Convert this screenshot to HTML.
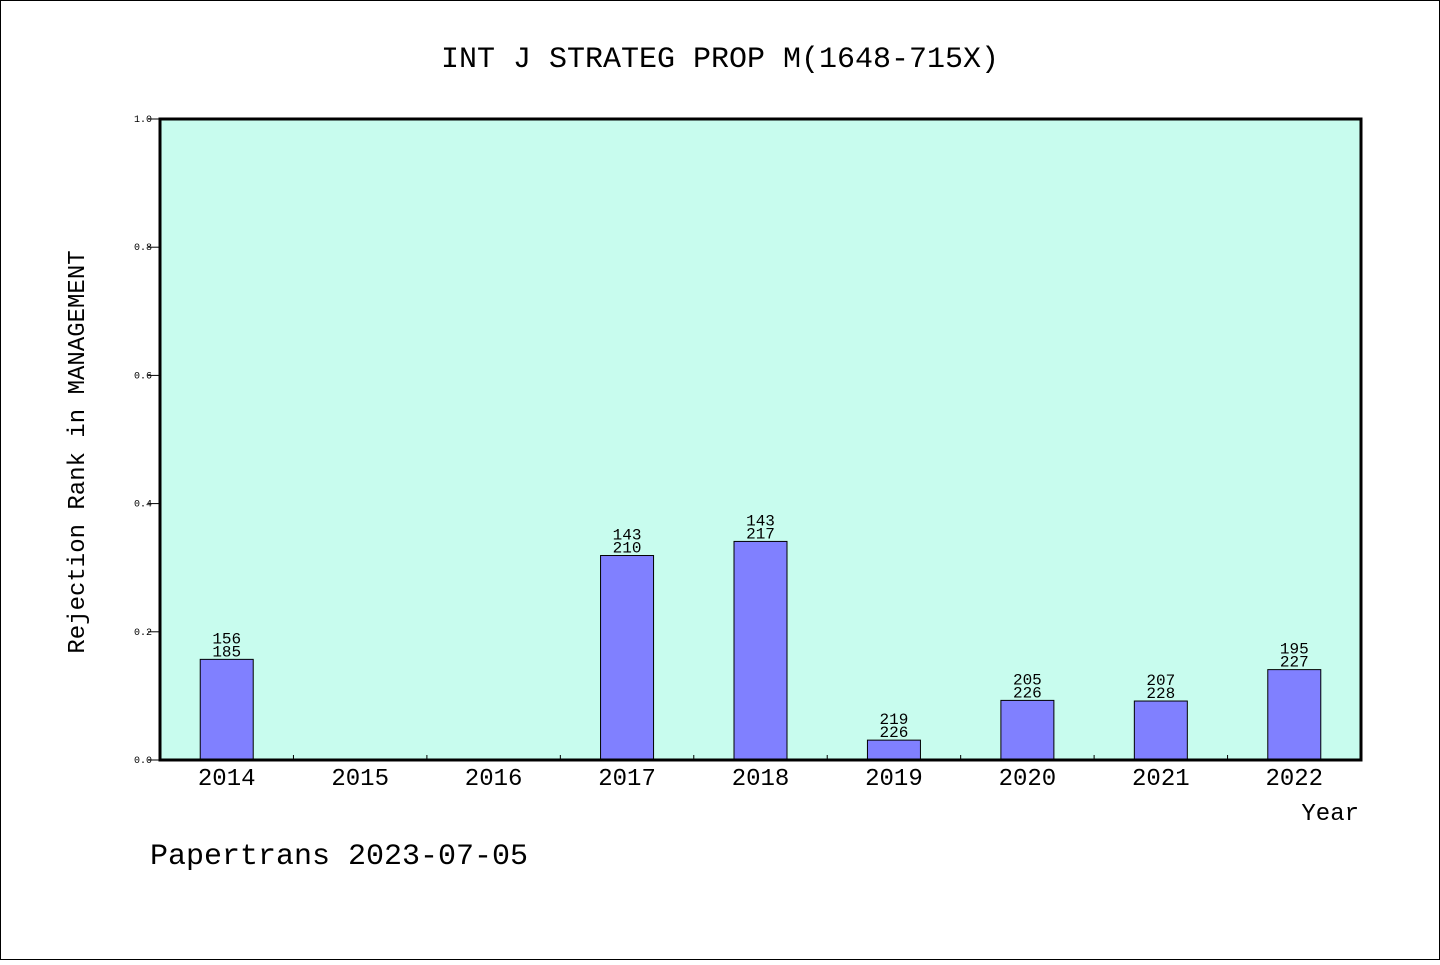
<!DOCTYPE html>
<html><head><meta charset="utf-8"><style>
body{margin:0;background:#fff}
svg text{font-family:"WenQuanYi Zen Hei","Liberation Mono",monospace;fill:#000}
</style></head><body>
<svg id="c" width="1440" height="960" viewBox="0 0 1440 960">
<rect x="0.5" y="0.5" width="1439" height="959" fill="#fff" stroke="#000"/>
<text x="720" y="67" font-size="30" text-anchor="middle">INT J STRATEG PROP M(1648-715X)</text>
<rect x="160" y="119" width="1201" height="641" fill="#c8fcee"/>
<g id="bars"></g>
<g id="axes"></g>
<rect x="160" y="119" width="1201" height="641" fill="none" stroke="#000" stroke-width="3"/>
<text transform="translate(84,452) rotate(-90)" font-size="24" text-anchor="middle">Rejection Rank in MANAGEMENT</text>
<text x="1359" y="820" font-size="24" text-anchor="end">Year</text>
<text x="150" y="864" font-size="30">Papertrans 2023-07-05</text>
</svg>
<script>
const years=["2014","2015","2016","2017","2018","2019","2020","2021","2022"];
const rankTop=[156,null,null,143,143,219,205,207,195];
const rankTotal=[185,null,null,210,217,226,226,228,227];
const values=[0.157,0,0,0.319,0.341,0.031,0.093,0.092,0.141];
const yTicks=[0,0.2,0.4,0.6,0.8,1.0];
const NS="http://www.w3.org/2000/svg";
const X0=160,X1=1361,Y0=760,Y1=119;
const bw=(X1-X0)/years.length;
const xs=i=>X0+bw*(i+0.5);
const ys=v=>Y0-(Y0-Y1)*v;
function mk(t,a,p){const e=document.createElementNS(NS,t);for(const k in a)e.setAttribute(k,a[k]);p.appendChild(e);return e;}
const bars=document.getElementById('bars'),axes=document.getElementById('axes');
years.forEach((y,i)=>{
  if(values[i]>0){
    const r=mk('rect',{x:xs(i)-26.5,y:ys(values[i]),width:53,height:Y0-ys(values[i]),fill:'#8080ff',stroke:'#000','stroke-width':1},bars);
    
    
  }
  if(rankTop[i]!=null){
    const t1=mk('text',{x:xs(i),y:ys(values[i])-16,'font-size':16,'text-anchor':'middle'},bars);t1.textContent=rankTop[i];
    
    
    const t2=mk('text',{x:xs(i),y:ys(values[i])-3,'font-size':16,'text-anchor':'middle'},bars);t2.textContent=rankTotal[i];
    
    
  }
  const lt=mk('text',{x:xs(i),y:785,'font-size':24,'text-anchor':'middle'},axes);lt.textContent=y;
  
  
  if(i>0){const tk=mk('line',{x1:X0+bw*i,x2:X0+bw*i,y1:Y0,y2:Y0-5,stroke:'#000'},axes);
    
    }
});
yTicks.forEach(v=>{
  const tk=mk('line',{x1:148,x2:160,y1:ys(v),y2:ys(v),stroke:'#000'},axes);
  
  
  const t=mk('text',{x:152,y:ys(v)+3,'font-size':10,'text-anchor':'end'},axes);t.textContent=v.toFixed(1);
  
  
});
</script>
</body></html>
